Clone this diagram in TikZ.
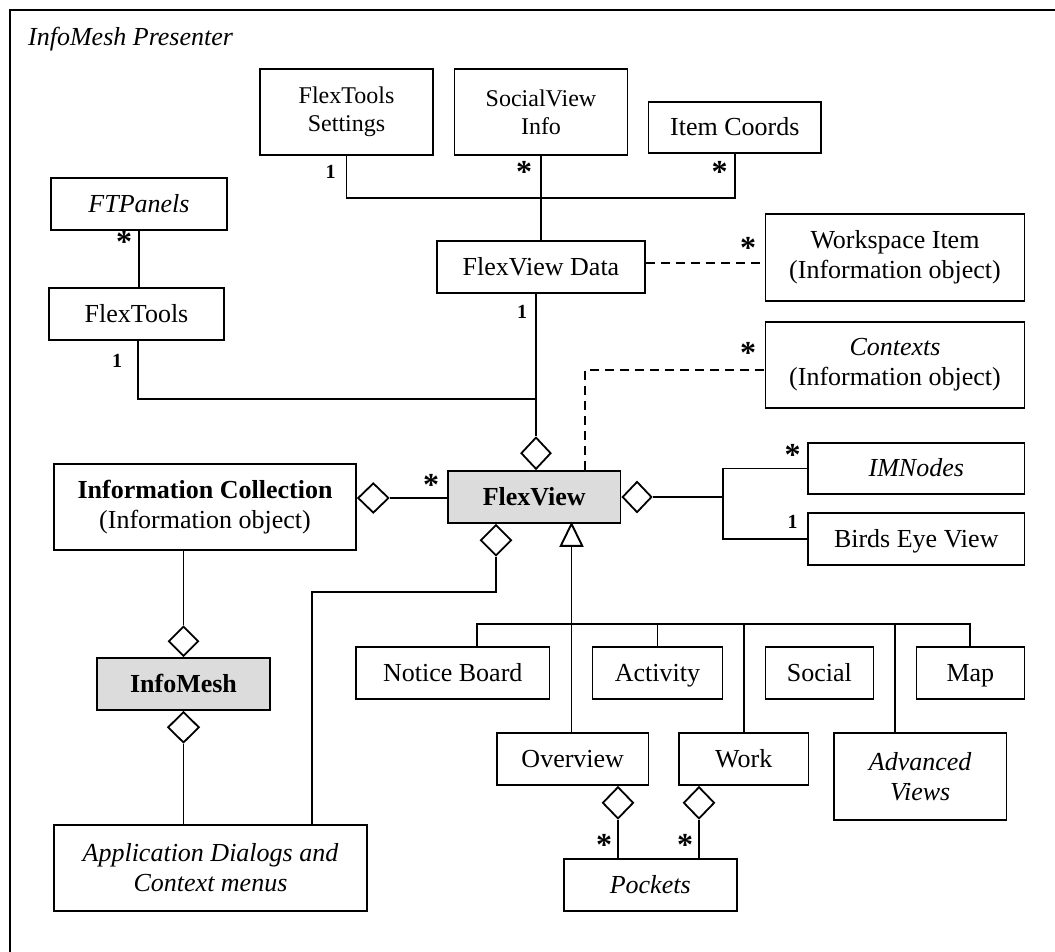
\documentclass[tikz,border=0pt]{standalone}
\usepackage{fontspec}
\setmainfont{Liberation Serif}
\usetikzlibrary{shapes.geometric}
\definecolor{clsgray}{HTML}{DCDCDC}
\begin{document}
\begin{tikzpicture}[x=1pt,y=-1pt,
  every node/.style={inner sep=0pt, font=\fontsize{26}{30}\selectfont},
  box/.style={draw, line width=1.8pt, rectangle, align=center, fill=white},
  line1/.style={box, text height=20pt, text depth=4pt},
  cls/.style={line1, fill=clsgray},
  small/.style={font=\fontsize{24}{28}\selectfont},
  agg/.style={draw, diamond, fill=white, line width=1.8pt},
  conn/.style={line width=1.9pt},
  assoc/.style={line width=2.2pt, dash pattern=on 9pt off 6pt},
  mult/.style={font=\fontsize{32}{32}\selectfont\bfseries},
  one/.style={font=\fontsize{20}{20}\selectfont\bfseries}]

\useasboundingbox (0,0) rectangle (1055,951);
\clip (0,0) rectangle (1055,951);

% package frame and its name
\draw[line width=1.8pt] (10,990) -- (10,10) -- (1090,10);
\node[anchor=base west, font=\fontsize{26}{30}\selectfont\itshape] (title) at (28,45) {InfoMesh Presenter};

% classes
\node[box, small, minimum width=173, minimum height=86] (fts) at (346.5,112) {FlexTools\\Settings};
\node[box, small, minimum width=173, minimum height=86] (svi) at (541,112) {SocialView\\Info};
\node[line1, minimum width=172.5, minimum height=51] (icd) at (734.75,127.5) {Item Coords};
\node[line1, minimum width=176, minimum height=52] (ftp) at (139,204) {\textit{FTPanels}};
\node[line1, minimum width=175, minimum height=52] (ft) at (136.5,314) {FlexTools};
\node[line1, minimum width=208.4, minimum height=52] (fvd) at (541,267) {FlexView Data};
\node[box, minimum width=259, minimum height=87] (wsi) at (895,257.5) {Workspace Item\\(Information object)};
\node[box, minimum width=259, minimum height=86] (ctx) at (895,365) {\textit{Contexts}\\(Information object)};
\node[box, minimum width=302, minimum height=86] (icol) at (205,507) {\textbf{Information Collection}\\(Information object)};
\node[cls, minimum width=172.5, minimum height=52] (fv) at (534.25,497) {\textbf{FlexView}};
\node[line1, minimum width=216.5, minimum height=51] (imn) at (916.25,468.5) {\textit{IMNodes}};
\node[line1, minimum width=216.5, minimum height=52] (bev) at (916.25,539) {Birds Eye View};
\node[cls, minimum width=173, minimum height=52] (im) at (183.5,684) {\textbf{InfoMesh}};
\node[box, minimum width=313, minimum height=86] (app) at (210.5,868) {\textit{Application Dialogs and}\\\textit{Context menus}};
\node[line1, minimum width=193.5, minimum height=52] (nb) at (452.75,673) {Notice Board};
\node[line1, minimum width=130, minimum height=52] (act) at (657.5,673) {Activity};
\node[line1, minimum width=108, minimum height=52] (soc) at (819.4,673) {Social};
\node[line1, minimum width=108, minimum height=52] (map) at (970.4,673) {Map};
\node[line1, minimum width=151.5, minimum height=52] (ov) at (572.75,759) {Overview};
\node[line1, minimum width=129.5, minimum height=52] (wk) at (743.75,759) {Work};
\node[box, minimum width=172.5, minimum height=87] (adv) at (920.25,776.5) {\textit{Advanced}\\\textit{Views}};
\node[line1, minimum width=173, minimum height=52] (pk) at (650.2,885) {\textit{Pockets}};

% junction points
\coordinate (bus1) at (0,198);
\coordinate (ftbus) at (0,399);
\coordinate (jn) at (723,497);
\coordinate (ja) at (312,592);
\coordinate (bus2) at (0,624);

% aggregation diamonds
\node[agg, minimum width=30, minimum height=32, anchor=south] (dtop) at ([xshift=1.75pt]fv.north) {};
\node[agg, minimum width=31, minimum height=30, anchor=west] (dic) at ([yshift=9pt]icol.east) {};
\node[agg, minimum width=29.5, minimum height=31, anchor=west] (dr) at (fv.east) {};
\node[agg, minimum width=31, minimum height=31, anchor=north] (dbl) at ([xshift=-38.25pt]fv.south) {};
\node[agg, minimum width=30, minimum height=30, anchor=south] (dimt) at (im.north) {};
\node[agg, minimum width=31.5, minimum height=31, anchor=north] (dimb) at (im.south) {};
\node[agg, minimum width=31, minimum height=32, anchor=north] (dov) at ([xshift=45.25pt]ov.south) {};
\node[agg, minimum width=31, minimum height=32, anchor=north] (dwk) at ([xshift=-44.75pt]wk.south) {};

% associations and aggregations
\draw[conn] (fts.south) |- (icd.south |- bus1) -- (icd.south);
\draw[conn] (svi.south) -- (fvd.north);
\draw[conn] (ftp.south) -- (ftp.south |- ft.north);
\draw[conn] (dtop.north |- fvd.south) -- (dtop.north);
\draw[conn] ([xshift=1.2pt]ft.south) |- (dtop.north |- ftbus);
\draw[assoc] ([yshift=4pt]fvd.east) -- ([yshift=4pt]fvd.east -| wsi.west);
\draw[assoc] ([xshift=51pt]fv.north) |- ([yshift=-5pt]ctx.west);
\draw[conn] (dic.east) -- (dic.east -| fv.west);
\draw[conn] (dr.east) -- (jn);
\draw[conn] (imn.west) -| (jn) |- (bev.west);
\draw[conn] (dbl.south) |- (ja) -- (ja |- app.north);
\draw[conn] (dimt.north |- icol.south) -- (dimt.north);
\draw[conn] (dimb.south) -- (dimb.south |- app.north);
\draw[conn] (dov.south) -- (dov.south |- pk.north);
\draw[conn] (dwk.south) -- (dwk.south |- pk.north);

% generalisation tree
\coordinate (tt) at ([xshift=37.25pt]fv.south);
\coordinate (tb) at ([yshift=-22pt]tt);
\draw[conn] (tb) -- (tb |- ov.north);
\draw[conn, fill=white] (tt) -- ++(-10.75,22) -- ++(21.5,0) -- cycle;
\draw[conn] ([xshift=24.15pt]nb.north) |- (map.north |- bus2) -- (map.north);
\draw[conn] (act.north) -- (act.north |- bus2);
\draw[conn] (wk.north) -- (wk.north |- bus2);
\draw[conn] ([xshift=-25.25pt]adv.north) -- ([xshift=-25.25pt]adv.north |- bus2);

% multiplicities
\node[one] (m1) at (330.5,171.5) {1};
\node[mult] (m2) at (524,172) {*};
\node[mult] (m3) at (719.5,172) {*};
\node[mult] (m4) at (124,242) {*};
\node[mult] (m5) at (748,248) {*};
\node[one] (m6) at (522,312) {1};
\node[one] (m7) at (117,361) {1};
\node[mult] (m8) at (748,353) {*};
\node[mult] (m9) at (431,485) {*};
\node[mult] (m10) at (792.6,455) {*};
\node[one] (m11) at (792.6,522) {1};
\node[mult] (m12) at (604,845) {*};
\node[mult] (m13) at (685,845) {*};
\end{tikzpicture}
\end{document}
